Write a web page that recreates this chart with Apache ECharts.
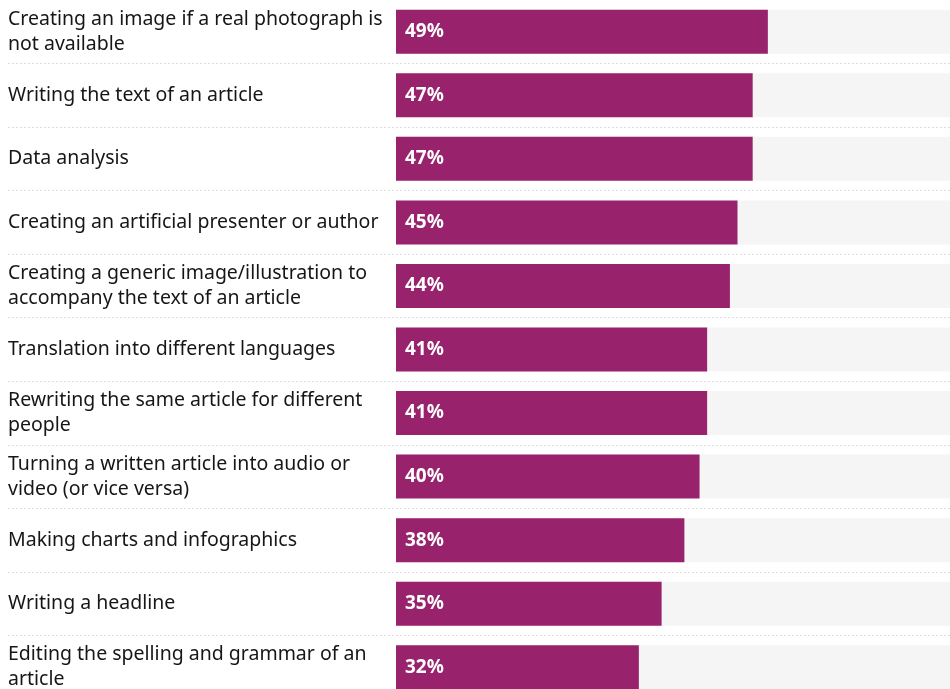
<!DOCTYPE html>
<html>
<head>
<meta charset="utf-8">
<style>
  html, body { margin: 0; padding: 0; background: #ffffff; overflow: hidden; }
  #chart { width: 950px; height: 699px; }
</style>
<script src="https://cdn.jsdelivr.net/npm/echarts@6/dist/echarts.min.js"></script>
</head>
<body>
<div id="chart"></div>
<script>
// Uses of AI in newsrooms, share of respondents
const categories = [
  'Creating an image if a real photograph is not available',
  'Writing the text of an article',
  'Data analysis',
  'Creating an artificial presenter or author',
  'Creating a generic image/illustration to accompany the text of an article',
  'Translation into different languages',
  'Rewriting the same article for different people',
  'Turning a written article into audio or video (or vice versa)',
  'Making charts and infographics',
  'Writing a headline',
  'Editing the spelling and grammar of an article'
];
const values = [49, 47, 47, 45, 44, 41, 41, 40, 38, 35, 32];

const FONT = '"Noto Sans", sans-serif';

const chart = echarts.init(document.getElementById('chart'), null, { renderer: 'canvas' });

chart.setOption({
  backgroundColor: '#ffffff',
  animation: false,
  grid: [
    // full-width grid carrying the dotted row separators
    { left: 8, right: 0, top: 0, bottom: 0, containLabel: false },
    // bar area
    { left: 396, right: 0, top: 0, bottom: 0, containLabel: false }
  ],
  xAxis: [
    { gridIndex: 0, type: 'value', min: 0, max: 1, show: false },
    { gridIndex: 1, type: 'value', min: 0, max: 73, show: false }
  ],
  yAxis: [
    {
      gridIndex: 0,
      type: 'category',
      inverse: true,
      data: categories,
      axisLine: { show: false },
      axisTick: { show: false },
      axisLabel: { show: false },
      splitLine: {
        show: true,
        interval: function (index) { return index > 0; },
        lineStyle: { color: '#dedede', type: [2, 2], width: 1 }
      }
    },
    {
      gridIndex: 1,
      type: 'category',
      inverse: true,
      data: categories,
      axisLine: { show: false },
      axisTick: { show: false },
      splitLine: { show: false },
      axisLabel: {
        align: 'left',
        margin: 388,
        width: 386,
        overflow: 'break',
        fontFamily: FONT,
        fontSize: 19.5,
        lineHeight: 25,
        color: '#161616'
      }
    }
  ],
  series: [
    {
      type: 'bar',
      xAxisIndex: 1,
      yAxisIndex: 1,
      data: values,
      barWidth: 44,
      showBackground: true,
      backgroundStyle: { color: '#f5f5f5' },
      itemStyle: { color: '#98236c' },
      label: {
        show: true,
        position: 'insideLeft',
        distance: 9,
        formatter: '{c}%',
        color: '#ffffff',
        fontFamily: FONT,
        fontWeight: 'bold',
        fontSize: 19
      }
    }
  ]
});
</script>
</body>
</html>
